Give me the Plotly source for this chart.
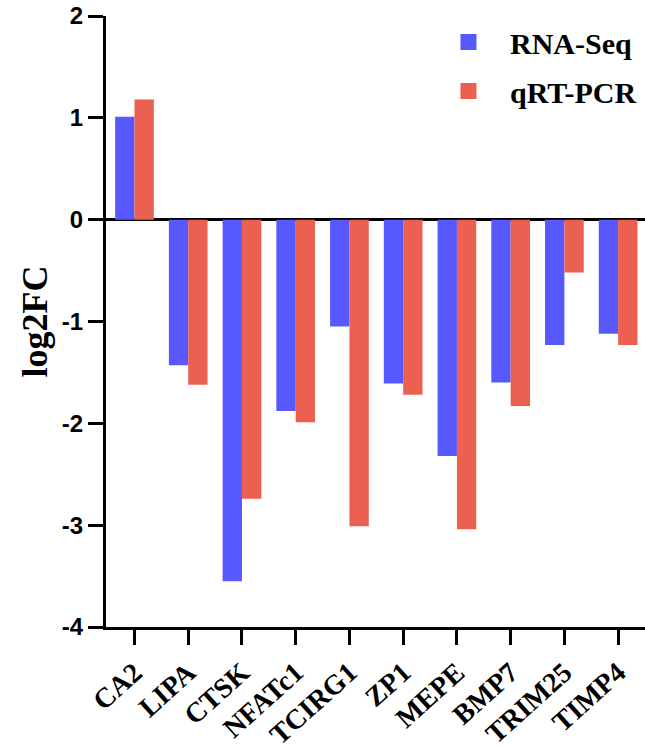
import plotly.graph_objects as go

genes = ["CA2", "LIPA", "CTSK", "NFATc1", "TCIRG1", "ZP1", "MEPE", "BMP7", "TRIM25", "TIMP4"]
rna_seq = [1.01, -1.43, -3.55, -1.88, -1.05, -1.61, -2.32, -1.60, -1.23, -1.12]
qrt_pcr = [1.18, -1.62, -2.74, -1.99, -3.01, -1.72, -3.04, -1.83, -0.52, -1.23]
y_ticks = [2, 1, 0, -1, -2, -3, -4]

BLUE = "#5858FF"
RED = "#EB6050"

fig = go.Figure()
fig.add_trace(go.Bar(x=genes, y=rna_seq, name="RNA-Seq", marker_color=BLUE,
                     marker_line_width=0, showlegend=False))
fig.add_trace(go.Bar(x=genes, y=qrt_pcr, name="qRT-PCR", marker_color=RED,
                     marker_line_width=0, showlegend=False))
# legend entries with larger square symbols
fig.add_trace(go.Scatter(x=[None], y=[None], mode="markers", name="RNA-Seq",
                         legendgroup="a",
                         marker=dict(symbol="square", size=16, color=BLUE)))
fig.add_trace(go.Scatter(x=[None], y=[None], mode="markers", name="qRT-PCR",
                         legendgroup="b",
                         marker=dict(symbol="square", size=16, color=RED)))

fig.update_layout(
    width=645, height=747,
    margin=dict(l=106, r=0, t=16, b=120, autoexpand=False),
    plot_bgcolor="white", paper_bgcolor="white",
    barmode="group", bargap=0.28, bargroupgap=0,
    legend=dict(x=0.5955, y=1.0, xanchor="left", yanchor="top",
                font=dict(family="Liberation Serif, Times New Roman, serif", size=30,
                          color="black", weight="bold"),
                itemwidth=73, tracegroupgap=7, bgcolor="rgba(0,0,0,0)"),
    showlegend=True,
)
fig.update_xaxes(
    type="category", range=[-0.53, 9.5], automargin=False,
    showline=True, linecolor="black", linewidth=3,
    ticks="outside", ticklen=15, tickwidth=3, tickcolor="black",
    tickangle=-42, showgrid=False, zeroline=False,
    ticklabeloverflow="allow",
    tickfont=dict(family="Liberation Serif, Times New Roman, serif", size=28,
                  color="black", weight="bold"),
)
fig.update_yaxes(
    range=[-4, 2], tickvals=y_ticks, ticktext=[str(v) for v in y_ticks],
    automargin=False, ticklabeloverflow="allow",
    showline=True, linecolor="black", linewidth=3,
    ticks="outside", ticklen=15, tickwidth=3, tickcolor="black",
    showgrid=False, zeroline=True, zerolinecolor="black", zerolinewidth=3,
    tickfont=dict(family="Liberation Sans, Arial, sans-serif", size=24,
                  color="black", weight="bold"),
    title=dict(text="log2FC", standoff=4,
               font=dict(family="Liberation Serif, Times New Roman, serif", size=36,
                         color="black", weight="bold")),
)

# remove the browser's default 8px body margin so the figure fills the window
fig.write_html("out.html", config={"displayModeBar": False},
               post_script="document.body.style.margin='0';")
